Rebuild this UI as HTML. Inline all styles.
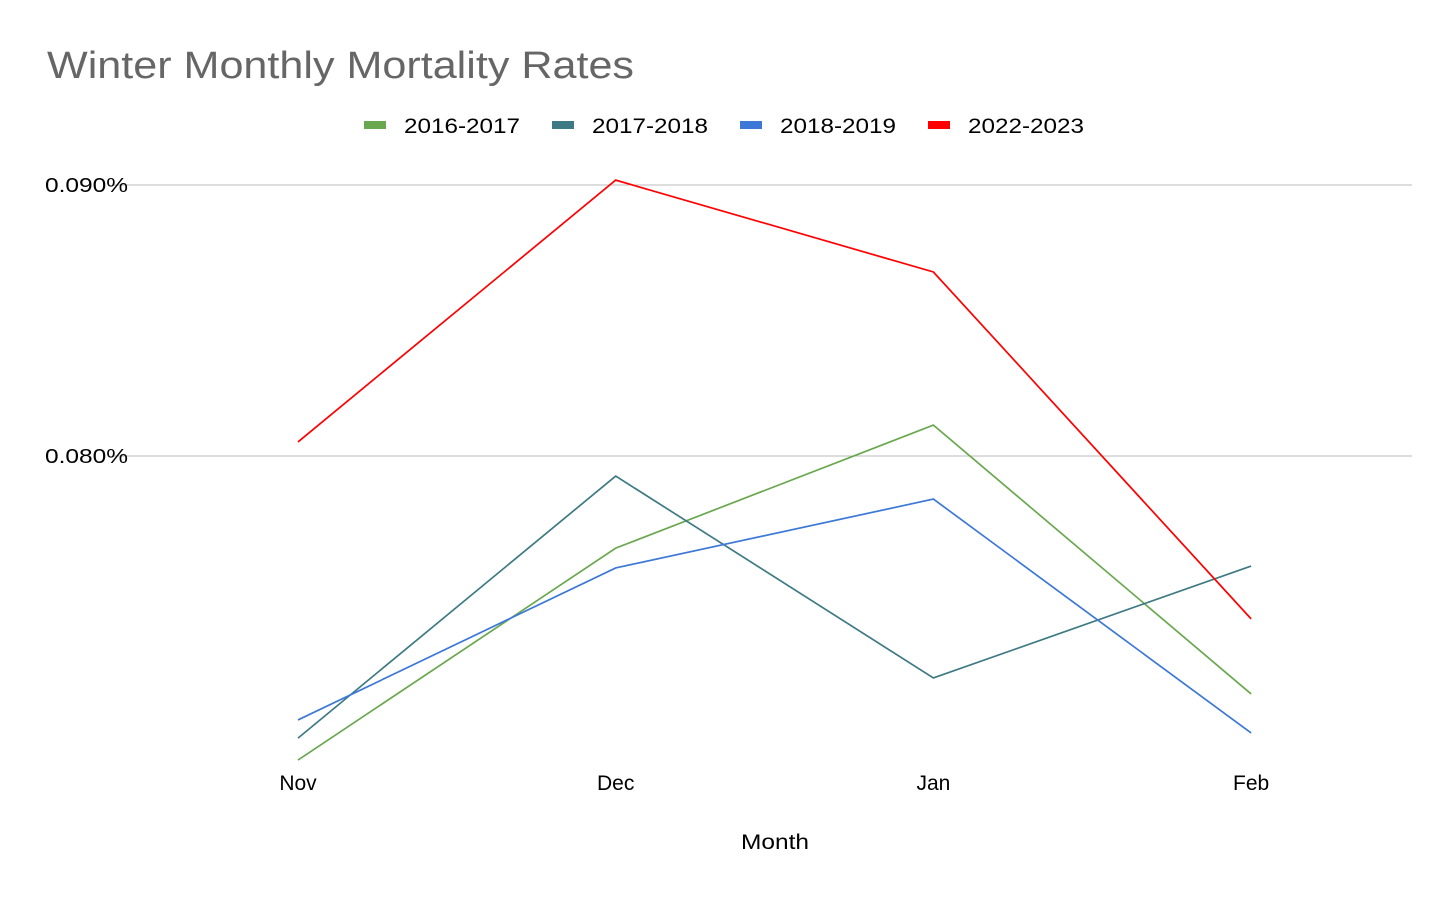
<!DOCTYPE html>
<html><head><meta charset="utf-8"><style>
body{margin:0;background:#fff;font-family:"Liberation Sans",sans-serif;}
</style></head><body>
<svg width="1456" height="900" xmlns="http://www.w3.org/2000/svg">
<text x="47" y="78" font-size="38" fill="#666" textLength="587" lengthAdjust="spacingAndGlyphs">Winter Monthly Mortality Rates</text>
<g id="legend"></g>
<g id="grid"></g>
<g id="series"></g>
<g id="xaxis"></g>
<text x="775" y="849" font-size="21" text-anchor="middle" fill="#000" textLength="68" lengthAdjust="spacingAndGlyphs">Month</text>
</svg>
<script>
const categories=["Nov","Dec","Jan","Feb"];
const seriesNames=["2016-2017","2017-2018","2018-2019","2022-2023"];
const s2016=[0.06878,0.07660,0.08114,0.07122];
const s2017=[0.06959,0.07926,0.07181,0.07594];
const s2018=[0.07026,0.07587,0.07841,0.06978];
const s2022=[0.08052,0.09018,0.08679,0.07399];
const yTicks=[0.080,0.090];
const yTickLabels=["0.080%","0.090%"];
const colors=["#6aa84f","#3d7a84","#3c78d8","#ff0000"];
const NS="http://www.w3.org/2000/svg";
function y(v){return 185+(0.090-v)/0.01*271;}
function x(i){return 298+i*317.7;}
function mk(t,a,p){const e=document.createElementNS(NS,t);for(const k in a)e.setAttribute(k,a[k]);p.appendChild(e);return e;}
const grid=document.getElementById('grid');
yTicks.forEach((v,i)=>{
 const l=mk('line',{x1:112,x2:1412,y1:y(v),y2:y(v),stroke:'#bbb','stroke-width':1},grid);
 
 
 const t=mk('text',{x:128,y:y(v)+7,'font-size':20,'text-anchor':'end',fill:'#000',textLength:83,lengthAdjust:'spacingAndGlyphs'},grid);
 t.textContent=yTickLabels[i];
 
 
});
const xa=document.getElementById('xaxis');
categories.forEach((c,i)=>{
 const t=mk('text',{x:x(i),y:790,'font-size':21,'text-anchor':'middle',fill:'#000'},xa);
 t.textContent=c;
 
 
});
const all=[s2016,s2017,s2018,s2022];
const sg=document.getElementById('series');
all.forEach((d,k)=>{
 const p=mk('polyline',{points:d.map((v,i)=>x(i)+','+y(v)).join(' '),fill:'none',stroke:colors[k],'stroke-width':1.7},sg);
 
 
});
const lg=document.getElementById('legend');
const lx=[364,552,740,928];
seriesNames.forEach((n,k)=>{
 const r=mk('rect',{x:lx[k],y:121,width:22,height:8,fill:colors[k]},lg);
 
 
 const t=mk('text',{x:lx[k]+40,y:133,'font-size':21,fill:'#000',textLength:116,lengthAdjust:'spacingAndGlyphs'},lg);
 t.textContent=n;
 
 
});
</script>
</body></html>
